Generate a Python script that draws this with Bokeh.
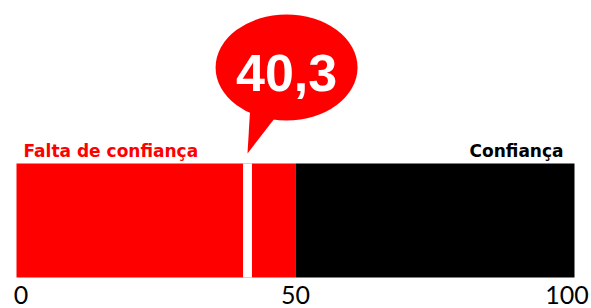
from bokeh.plotting import figure
from bokeh.models import Range1d, ColumnDataSource
from bokeh.core.properties import value
from bokeh.embed import file_html
from bokeh.resources import INLINE

# ---- data ----
segment_labels = ["Falta de confiança", "Confiança"]
segment_starts = [0, 50]
segment_ends = [50, 100]
segment_colors = ["#ff0000", "#000000"]
score = 40.3
score_label = "40,3"
tick_values = [0, 50, 100]
tick_labels = ["0", "50", "100"]

# ---- layout constants (screen px) ----
W, H = 591, 308
PX = 5.58                      # px per data unit
x_start = -16 / PX
x_end = x_start + W / PX
BAR_TOP, BAR_BOT = 163, 277

p = figure(width=W, height=H, output_backend="svg", toolbar_location=None,
           x_range=Range1d(x_start, x_end), y_range=Range1d(H, 0),
           x_axis_location=None, y_axis_location=None, min_border=0)
p.grid.visible = False
p.outline_line_color = None
p.background_fill_color = "white"
p.border_fill_color = "white"

# bar segments
seg = ColumnDataSource(dict(left=segment_starts, right=segment_ends,
                            color=segment_colors, label=segment_labels))
p.quad(left="left", right="right", top=BAR_TOP, bottom=BAR_BOT,
       fill_color="color", line_color=None, source=seg)

# white gap marking the score
p.quad(left=[score + 0.3], right=[score + 1.9], top=BAR_TOP, bottom=BAR_BOT,
       fill_color="white", line_color=None)

# speech bubble
p.ellipse(x=[score + 8.1], y=[67], width=142, height=106,
          width_units="screen", height_units="data",
          fill_color="#ff0000", line_color=None)
p.patch(x=[score + 1.6, score + 6.5, score + 1.1], y=[106, 114, 153],
        fill_color="#ff0000", line_color=None)
p.text(x=[score + 8.1], y=[72], text=[score_label],
       text_align="center", text_baseline="middle",
       text_font=value("Liberation Sans"), text_font_style="bold",
       text_font_size="52px", text_color="white")

# segment labels
lab = ColumnDataSource(dict(x=[segment_starts[0], segment_ends[1]],
                            text=segment_labels,
                            color=segment_colors,
                            align=["left", "right"],
                            xo=[7, -11]))
p.text(x="x", y=150, text="text", text_color="color", text_align="align",
       x_offset="xo", text_baseline="middle",
       text_font=value("DejaVu Sans"), text_font_style="bold",
       text_font_size="17px", source=lab)

# tick labels
ticks = ColumnDataSource(dict(x=tick_values, text=tick_labels,
                              xo=[4.5, 0, -7.5]))
p.text(x="x", y=294, text="text", x_offset="xo", text_align="center",
       text_baseline="middle", text_font=value("Lato"),
       text_font_size="25px", text_color="black", source=ticks)

open("out.html", "w").write(file_html(p, INLINE))
